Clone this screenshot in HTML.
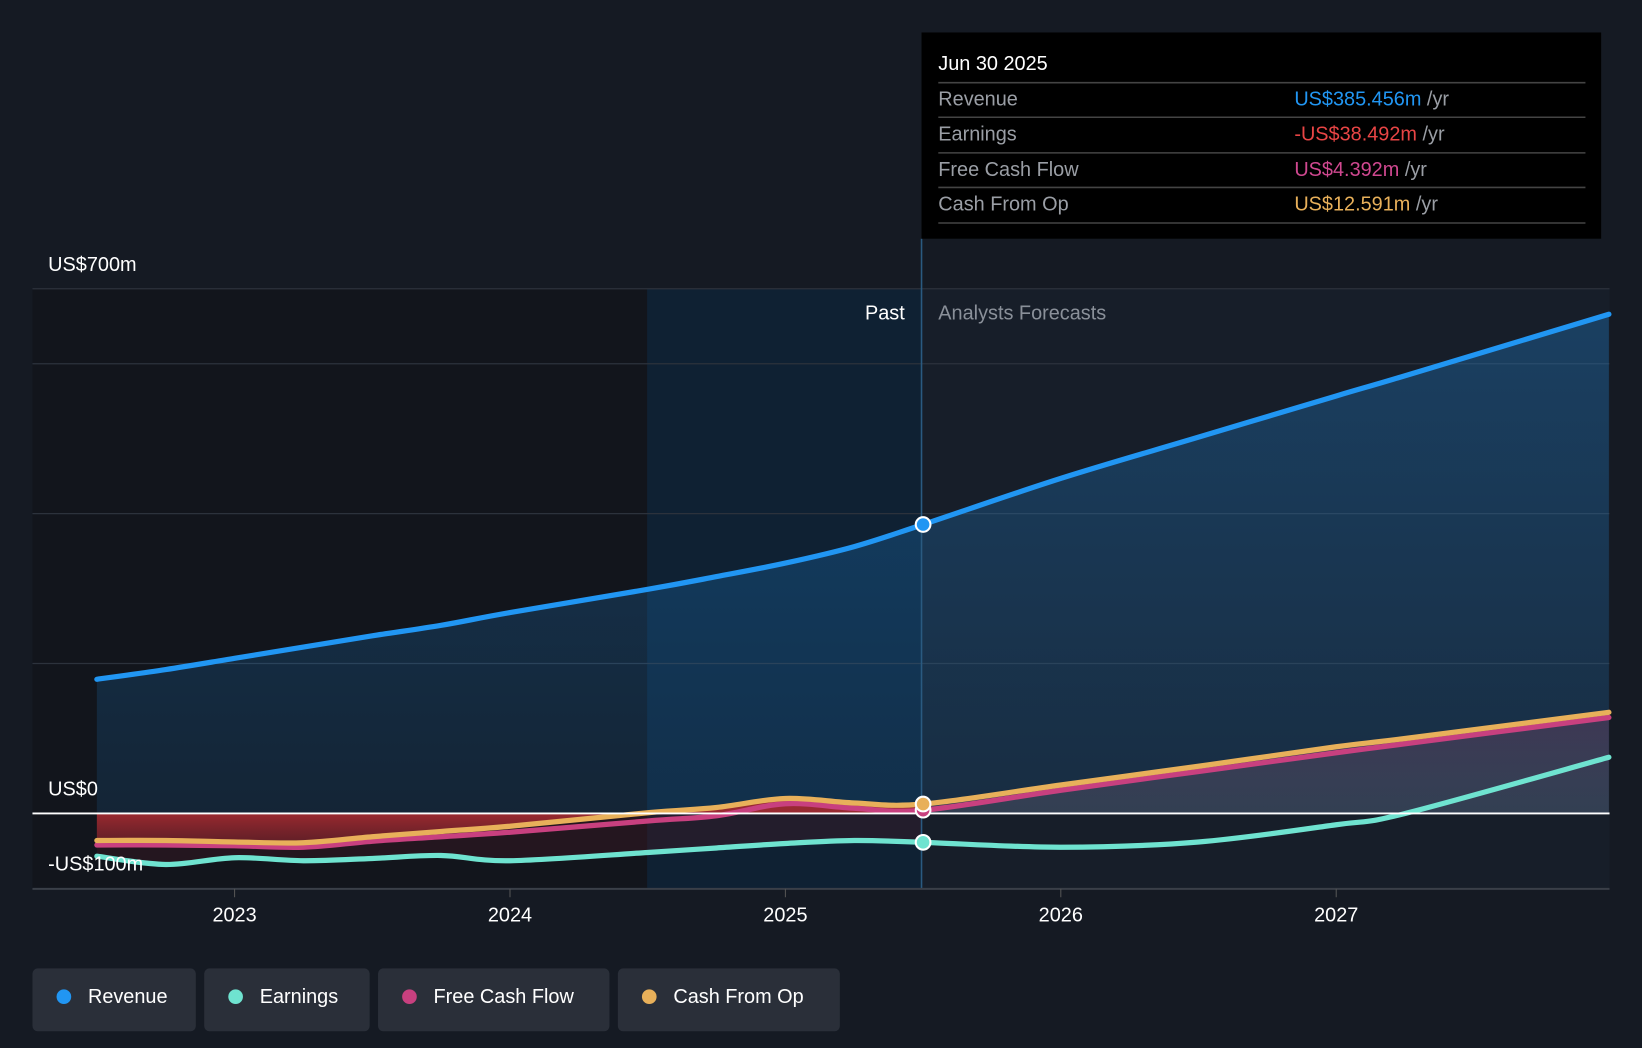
<!DOCTYPE html>
<html><head><meta charset="utf-8"><style>
html,body{margin:0;padding:0;background:#151a23;overflow:hidden}
svg{display:block;font-family:"Liberation Sans",sans-serif}
</style></head><body>
<svg id="chart" width="1642" height="1048" viewBox="0 0 1568 1001" preserveAspectRatio="none">
<defs>
<linearGradient id="revg" x1="0" y1="0" x2="0" y2="1"><stop offset="0" stop-color="#2196f3" stop-opacity="0.28"/><stop offset="1" stop-color="#2196f3" stop-opacity="0.12"/></linearGradient>
<linearGradient id="negg" gradientUnits="userSpaceOnUse" x1="0" y1="777" x2="0" y2="812"><stop offset="0" stop-color="#a02a30" stop-opacity="0.95"/><stop offset="1" stop-color="#6a2028" stop-opacity="0.7"/></linearGradient>
<linearGradient id="posg" x1="0" y1="0" x2="0" y2="1"><stop offset="0" stop-color="#b04a7a" stop-opacity="0.25"/><stop offset="1" stop-color="#b0b0b0" stop-opacity="0.15"/></linearGradient>
<clipPath id="pastclip"><rect x="0" y="0" width="880" height="1001"/></clipPath>
<clipPath id="futclip"><rect x="880" y="0" width="700" height="1001"/></clipPath>
</defs>
<rect x="0" y="0" width="1568" height="1001" fill="#151a23"/>
<rect x="31" y="276" width="587" height="573" fill="#12151c"/>
<rect x="618" y="276" width="262" height="573" fill="#0f2133"/>
<rect x="880" y="276" width="657" height="573" fill="#171e29"/>
<g id="grid"></g>
<g id="areas"></g>
<g id="lines"></g>
<line x1="880" y1="228" x2="880" y2="849" stroke="#2a5a80" stroke-width="1.5"/>
<g id="axis"></g>
<g id="dots"></g>
<text x="864" y="305" fill="#fff" font-size="19" text-anchor="end">Past</text>
<text x="896" y="305" fill="#8a9099" font-size="19">Analysts Forecasts</text>
<g>
<rect x="880" y="31" width="649" height="197" fill="#000"/>
<text x="896" y="67" fill="#fff" font-size="19">Jun 30 2025</text>
<g stroke="#444" stroke-width="1.5"><line x1="896" y1="79" x2="1514" y2="79"/><line x1="896" y1="112" x2="1514" y2="112"/><line x1="896" y1="146" x2="1514" y2="146"/><line x1="896" y1="179" x2="1514" y2="179"/><line x1="896" y1="213" x2="1514" y2="213"/></g>
<g font-size="19" fill="#9a9ea5">
<text x="896" y="101">Revenue</text><text x="896" y="134">Earnings</text><text x="896" y="168">Free Cash Flow</text><text x="896" y="201">Cash From Op</text>
</g>
<g font-size="19">
<text x="1236" y="101" fill="#2196f3">US$385.456m <tspan fill="#9a9ea5">/yr</tspan></text>
<text x="1236" y="134" fill="#e84545">-US$38.492m <tspan fill="#9a9ea5">/yr</tspan></text>
<text x="1236" y="168" fill="#d04890">US$4.392m <tspan fill="#9a9ea5">/yr</tspan></text>
<text x="1236" y="201" fill="#e8b05a">US$12.591m <tspan fill="#9a9ea5">/yr</tspan></text>
</g>
</g>
<g id="legend"></g>
</svg>
<script>
const years=[2022.5,2022.75,2023,2023.25,2023.5,2023.75,2024,2024.5,2024.75,2025,2025.25,2025.5,2026,2026.5,2027,2027.25,2027.99];
const revenue=[179,192,207,222,237,251,268,299,316,334,356,385.5,447,502,557,584,666];
const earnings=[-57,-68,-59,-63,-60,-56,-63,-52,-46,-40,-36,-38.5,-45,-38,-15,0,75];
const fcf=[-42,-42,-43,-45,-37,-31,-25,-10,-3,13,7,4.4,31,56,81,93,128];
const cfo=[-36,-36,-38,-39,-31,-24,-17,1,8,20,14,12.6,38,63,89,100,135];
const yTicks=[700,0,-100];
const yTickLabels=["US$700m","US$0","-US$100m"];
const gridVals=[700,600,400,200];
const xTicks=[2023,2024,2025,2026,2027];
const NS="http://www.w3.org/2000/svg";
function X(t){return 224+(t-2023)*263;}
function Y(v){return 777-v*0.716;}
function el(tag,attrs,parent){const e=document.createElementNS(NS,tag);for(const k in attrs)e.setAttribute(k,attrs[k]);parent.appendChild(e);return e;}
function smooth(vals){const p=years.map((t,i)=>[X(t),Y(vals[i])]);let d="M"+p[0][0]+","+p[0][1];
for(let i=0;i<p.length-1;i++){const p0=p[i-1]||p[i],p1=p[i],p2=p[i+1],p3=p[i+2]||p2;
d+=" C"+(p1[0]+(p2[0]-p0[0])/6)+","+(p1[1]+(p2[1]-p0[1])/6)+" "+(p2[0]-(p3[0]-p1[0])/6)+","+(p2[1]-(p3[1]-p1[1])/6)+" "+p2[0]+","+p2[1];}return d;}
const grid=document.getElementById('grid'),areas=document.getElementById('areas'),lines=document.getElementById('lines'),axis=document.getElementById('axis'),dots=document.getElementById('dots'),legend=document.getElementById('legend');
gridVals.forEach(v=>{const g=el('line',{x1:31,x2:1537,y1:Y(v),y2:Y(v),stroke:'#2c323c','stroke-width':1.2},grid);

});
const x0=X(years[0]),x1=X(years[years.length-1]);
const ra=el('path',{d:smooth(revenue)+" L"+x1+","+Y(0)+" L"+x0+","+Y(0)+" Z",fill:'url(#revg)'},areas);


const ea=el('path',{d:smooth(earnings)+" L"+x1+","+Y(0)+" L"+x0+","+Y(0)+" Z",fill:'rgba(60,25,35,0.45)','clip-path':'url(#pastclip)'},areas);


const na=el('path',{d:smooth(cfo)+" L"+x1+","+Y(0)+" L"+x0+","+Y(0)+" Z",fill:'url(#negg)','clip-path':'url(#pastclip)'},areas);


const pa=el('path',{d:smooth(cfo)+" L"+x1+","+Y(0)+" L"+x0+","+Y(0)+" Z",fill:'url(#posg)','clip-path':'url(#futclip)'},areas);


const series=[["revenue",revenue,"#2196f3"],["free-cash-flow",fcf,"#c8407f"],["cash-from-op",cfo,"#e8b05a"],["earnings",earnings,"#6fe3d0"]];
series.forEach(s=>{const p=el('path',{d:smooth(s[1]),fill:'none',stroke:s[2],'stroke-width':5,'stroke-linecap':'round'},lines);

});
const zl=el('line',{x1:31,x2:1537,y1:Y(0),y2:Y(0),stroke:'#fff','stroke-width':1.8},axis);


const bl=el('line',{x1:31,x2:1537,y1:849,y2:849,stroke:'#3a3f48','stroke-width':2},axis);


yTicks.forEach((v,i)=>{const t=el('text',{x:46,y:Y(v)-17,fill:'#fff','font-size':19},axis);t.textContent=yTickLabels[i];

});
xTicks.forEach(v=>{const l=el('line',{x1:X(v),x2:X(v),y1:849,y2:857,stroke:'#555','stroke-width':1},axis);


const t=el('text',{x:X(v),y:880,fill:'#fff','font-size':19,'text-anchor':'middle'},axis);t.textContent=v;

});
const idx=years.indexOf(2025.5);
[["revenue",revenue,"#2196f3"],["free-cash-flow",fcf,"#c8407f"],["cash-from-op",cfo,"#e8b05a"],["earnings",earnings,"#6fe3d0"]].forEach(s=>{
const c=el('circle',{cx:X(2025.5),cy:Y(s[1][idx]),r:7,fill:s[2],stroke:'#fff','stroke-width':2},dots);

});
const legendItems=[["Revenue","#2196f3",31,156],["Earnings","#6fe3d0",195,158],["Free Cash Flow","#c8407f",361,221],["Cash From Op","#e8b05a",590,212]];
legendItems.forEach(it=>{const g=el('g',{},legend);


el('rect',{x:it[2],y:925,width:it[3],height:60,rx:5,fill:'#2a2f39'},g);
el('circle',{cx:it[2]+30,cy:952,r:7,fill:it[1]},g);
const t=el('text',{x:it[2]+53,y:958,fill:'#fff','font-size':19},g);t.textContent=it[0];});
</script>
</body></html>
